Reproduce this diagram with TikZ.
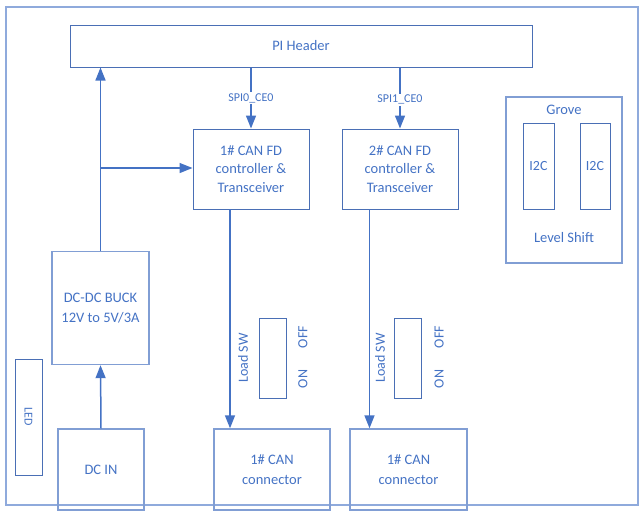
\documentclass[tikz,border=0pt]{standalone}
\usepackage{fontspec}
\setmainfont{Carlito}
\usetikzlibrary{arrows.meta}
\definecolor{txtblue}{HTML}{4472C4}
\definecolor{boxblue}{HTML}{4A6FB5}
\definecolor{lightblue}{HTML}{8FAADC}
\tikzset{
  blk/.style={draw=boxblue, line width=1pt, inner sep=0pt, text=txtblue, align=center, font=\fontsize{14.5}{18.5}\selectfont},
  lblk/.style={blk, draw=lightblue!80!boxblue, line width=1.4pt, font=\fontsize{14.5}{19.5}\selectfont},
  conn/.style={draw=txtblue, line width=1.5pt, -{Triangle[length=13pt,width=10pt]}},
  lbl/.style={text=txtblue, inner sep=0pt, font=\fontsize{12}{14}\selectfont},
  sw/.style={text=txtblue, inner sep=0pt, font=\fontsize{14}{16}\selectfont, rotate=90},
  plain/.style={text=txtblue, font=\fontsize{14.5}{17}\selectfont, inner sep=0pt}
}
\begin{document}
\begin{tikzpicture}[x=1pt,y=-1pt]
\useasboundingbox (0,0) rectangle (642,515);
\draw[draw=lightblue, line width=1.4pt] (6,7) rectangle (638,505);
% PI header
\node[blk, minimum width=462pt, minimum height=42pt] (pi) at (301,46) {PI Header};
% CAN FD boxes
\node[blk, minimum width=116pt, minimum height=80pt] (fd1) at (251,169) {1\# CAN FD\\controller \&\\Transceiver};
\node[blk, minimum width=116pt, minimum height=80pt] (fd2) at (400,169) {2\# CAN FD\\controller \&\\Transceiver};
% Grove
\node[lblk, minimum width=116pt, minimum height=166pt] (grove) at (564,180) {};
\node[plain] (grt) at (564,110) {Grove};
\node[blk, minimum width=31pt, minimum height=86pt, font=\fontsize{14}{16}\selectfont] (i2ca) at (538.5,166) {I2C};
\node[blk, minimum width=30pt, minimum height=86pt, font=\fontsize{14}{16}\selectfont] (i2cb) at (595,166) {I2C};
\node[plain] (ls) at (564,238) {Level Shift};
% DC-DC
\node[lblk, minimum width=97pt, minimum height=113pt] (dcdc) at (100.5,308) {DC-DC BUCK\\12V to 5V/3A};
\node[lblk, minimum width=86pt, minimum height=81pt] (dcin) at (101,469.5) {DC IN};
\node[blk, minimum width=27pt, minimum height=116pt] (led) at (28.5,417) {};
\node[text=txtblue, font=\fontsize{12}{14}\selectfont, inner sep=0pt, rotate=-90] (ledt) at (28.5,417) {LED};
% connectors
\node[lblk, minimum width=116pt, minimum height=81pt] (c1) at (272,469.5) {1\# CAN\\connector};
\node[lblk, minimum width=117pt, minimum height=81pt] (c2) at (408.5,469.5) {1\# CAN\\connector};
% switches
\node[blk, minimum width=27pt, minimum height=80pt] (sw1) at (273,358) {};
\node[blk, minimum width=27pt, minimum height=80pt] (sw2) at (408,358) {};
\node[sw] (ls1) at (243,358) {Load SW};
\node[sw] (off1) at (303,337) {OFF};
\node[sw] (on1) at (303,379) {ON};
\node[sw] (ls2) at (380,358) {Load SW};
\node[sw] (off2) at (439,337) {OFF};
\node[sw] (on2) at (439,379) {ON};
% connectors
\draw[conn] (dcin.north) -- (dcdc.south);
\draw[conn] (dcdc.north) -- (dcdc.north |- pi.south);
\coordinate (jn) at (100.5,168);
\draw[conn] (jn) -- (fd1.west |- jn);
\draw[conn] (fd1.north |- pi.south) -- node[lbl, fill=white, inner sep=1.5pt, pos=0.5]{SPI0\_CE0} (fd1.north);
\draw[conn] (fd2.north |- pi.south) -- node[lbl, fill=white, inner sep=1.5pt, pos=0.53]{SPI1\_CE0} (fd2.north);
\coordinate (a1) at (230,209);
\coordinate (a2) at (369.5,209);
\draw[conn] (a1) -- (a1 |- c1.north);
\draw[conn] (a2) -- (a2 |- c2.north);
\end{tikzpicture}
\end{document}
